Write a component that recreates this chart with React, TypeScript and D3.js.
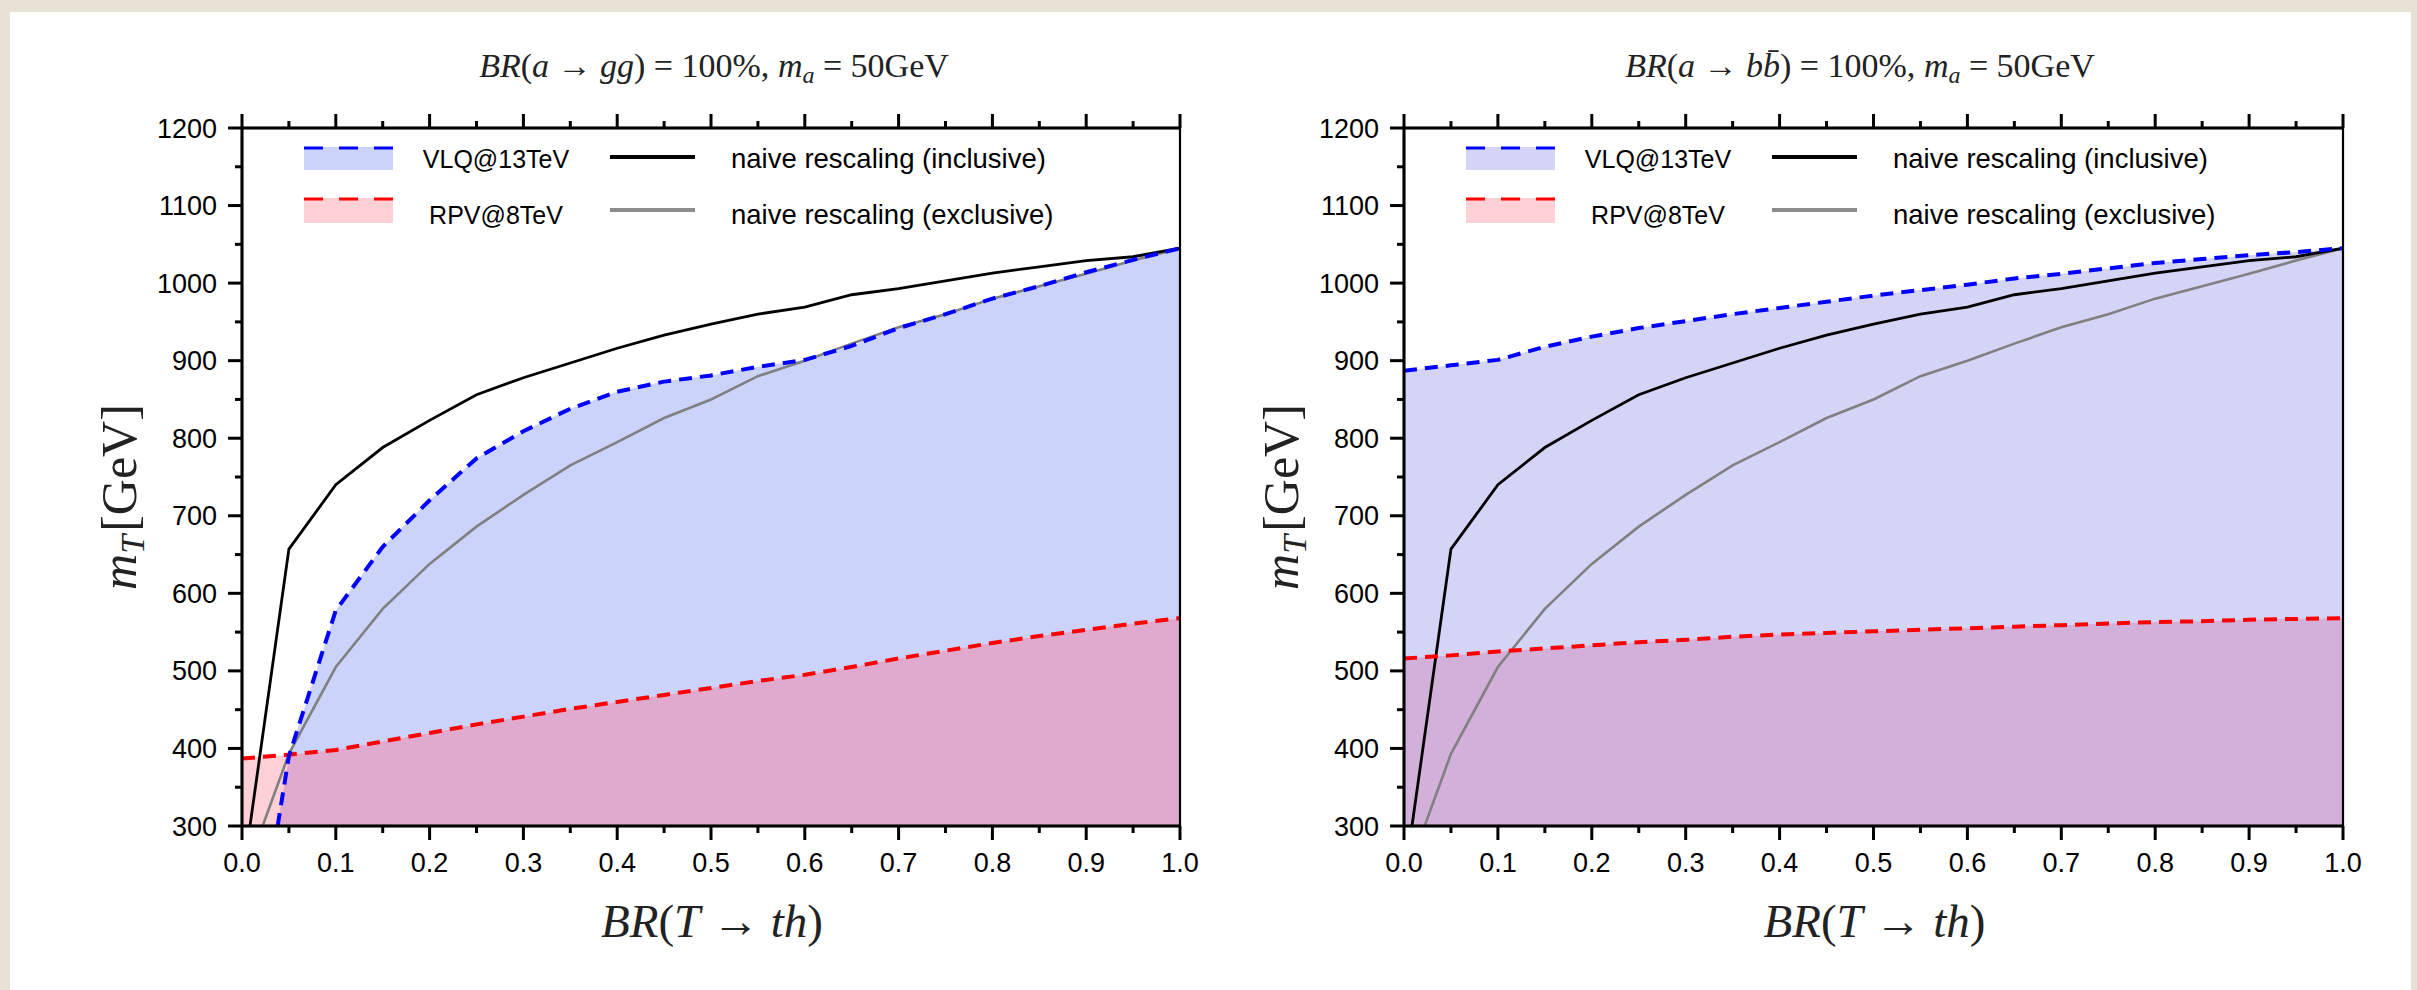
import React from "react";
import * as d3 from "d3";

// ---------------- data ----------------
// naive rescaling (inclusive) – same curve in both panels
const INCL_BR = [0.0085, 0.05, 0.1, 0.15, 0.2, 0.25, 0.3, 0.35, 0.4, 0.45, 0.5, 0.55, 0.6, 0.65, 0.7, 0.75, 0.8, 0.85, 0.9, 0.95, 1.0];
const INCL_MT = [300, 657, 740, 788, 823, 856, 878, 897, 916, 933, 947, 960, 969, 985, 993, 1003, 1013, 1021, 1029, 1034, 1045];

// naive rescaling (exclusive) – same curve in both panels
const EXCL_BR = [0.022, 0.05, 0.1, 0.15, 0.2, 0.25, 0.3, 0.35, 0.4, 0.45, 0.5, 0.55, 0.6, 0.65, 0.7, 0.75, 0.8, 0.85, 0.9, 0.95, 1.0];
const EXCL_MT = [300, 393, 505, 580, 638, 686, 727, 765, 795, 826, 850, 880, 900, 922, 943, 960, 980, 996, 1012, 1029, 1045];

// VLQ@13TeV, a -> gg
const VLQ_GG_BR = [0.038, 0.05, 0.1, 0.15, 0.2, 0.25, 0.3, 0.35, 0.4, 0.45, 0.5, 0.55, 0.6, 0.65, 0.7, 0.75, 0.8, 0.85, 0.9, 0.95, 1.0];
const VLQ_GG_MT = [300, 390, 578, 660, 720, 774, 809, 838, 860, 873, 881, 892, 901, 919, 942, 960, 980, 996, 1014, 1030, 1045];

// RPV@8TeV, a -> gg
const RPV_BR = [0, 0.05, 0.1, 0.15, 0.2, 0.25, 0.3, 0.35, 0.4, 0.45, 0.5, 0.55, 0.6, 0.65, 0.7, 0.75, 0.8, 0.85, 0.9, 0.95, 1.0];
const RPV_GG_MT = [387, 392, 398, 409, 420, 431, 441, 451, 460, 469, 478, 487, 495, 505, 516, 526, 536, 545, 553, 561, 568];

// a -> bb
const VLQ_BB_BR = [0, 0.05, 0.1, 0.15, 0.2, 0.25, 0.3, 0.35, 0.4, 0.45, 0.5, 0.55, 0.6, 0.65, 0.7, 0.75, 0.8, 0.85, 0.9, 0.95, 1.0];
const VLQ_BB_MT = [887, 894, 901, 918, 931, 942, 951, 960, 968, 976, 984, 991, 998, 1006, 1012, 1019, 1026, 1031, 1036, 1040, 1045];
const RPV_BB_MT = [516, 520, 525, 529, 533, 537, 540, 544, 547, 549, 551, 553, 555, 557, 559, 561, 563, 564, 566, 567, 568];

const X_DOMAIN = [0, 1];
const Y_DOMAIN = [300, 1200];
const LEGEND_LABELS = ["VLQ@13TeV", "RPV@8TeV", "naive rescaling (inclusive)", "naive rescaling (exclusive)"];

type Pt = { x: number; y: number };
const zip = (xs: number[], ys: number[]): Pt[] => xs.map((x, i) => ({ x, y: ys[i] }));

const W = 2417;
const H = 990;
const TOP = 128;
const BOTTOM = 826;
const MATH = "'Liberation Serif', 'DejaVu Serif', serif";
const SANS = "'Liberation Sans', Arial, sans-serif";

type PanelProps = {
  id: string;
  x0: number;
  x1: number;
  vlq: Pt[];
  rpv: Pt[];
  blueFill: string;
  redFill: string;
  overlapFill: string;
  title: React.ReactNode;
  titleX: number;
};

function Panel(p: PanelProps) {
  const x = d3.scaleLinear().domain(X_DOMAIN).range([p.x0, p.x1]);
  const y = d3.scaleLinear().domain(Y_DOMAIN).range([BOTTOM, TOP]);
  const line = d3.line<Pt>().x((d) => x(d.x)).y((d) => y(d.y));
  const area = d3.area<Pt>().x((d) => x(d.x)).y0(y(300)).y1((d) => y(d.y));
  const incl = zip(INCL_BR, INCL_MT);
  const excl = zip(EXCL_BR, EXCL_MT);

  const xMajor = x.ticks(10);
  const xMinor = x.ticks(20).filter((t) => !xMajor.some((m) => Math.abs(m - t) < 1e-9));
  const yMajor = y.ticks(9);
  const yMinor = d3.range(350, 1200, 100);

  const lx = p.x0;
  const cx = (p.x0 + p.x1) / 2;
  return (
    <g>
      <defs>
        <clipPath id={`plot-${p.id}`}>
          <rect x={p.x0} y={TOP} width={p.x1 - p.x0} height={BOTTOM - TOP} />
        </clipPath>
        <clipPath id={`blue-${p.id}`}>
          <path d={area(p.vlq) || ""} />
        </clipPath>
      </defs>
      {/* title */}
      <text x={p.titleX} y={77} fontFamily={MATH} fontSize={34} textAnchor="middle" fill="#222">
        {p.title}
      </text>
      <g clipPath={`url(#plot-${p.id})`}>
        <path d={area(p.vlq) || ""} fill={p.blueFill} />
        <path d={area(p.rpv) || ""} fill={p.redFill} />
        <path d={area(p.rpv) || ""} fill={p.overlapFill} clipPath={`url(#blue-${p.id})`} />
        <path d={line(excl) || ""} fill="none" stroke="#808080" strokeWidth={2.6} />
        <path d={line(incl) || ""} fill="none" stroke="#000" strokeWidth={2.8} />
        <path d={line(p.rpv) || ""} fill="none" stroke="#ff0000" strokeWidth={4} strokeDasharray="13 8" />
        <path d={line(p.vlq) || ""} fill="none" stroke="#0000ff" strokeWidth={4} strokeDasharray="13 8" />
      </g>
      {/* frame */}
      <rect x={p.x0} y={TOP} width={p.x1 - p.x0} height={BOTTOM - TOP} fill="none" stroke="#000" strokeWidth={2.2} />
      <line x1={p.x0 - 1} x2={p.x1 + 1} y1={BOTTOM} y2={BOTTOM} stroke="#000" strokeWidth={3.2} />
      <line x1={p.x0 - 1} x2={p.x1 + 1} y1={TOP} y2={TOP} stroke="#000" strokeWidth={3} />
      <line x1={p.x0} x2={p.x0} y1={TOP - 1} y2={BOTTOM + 1} stroke="#000" strokeWidth={3} />
      {/* x ticks bottom & top */}
      {xMajor.map((t) => (
        <g key={`xm${t}`}>
          <line x1={x(t)} x2={x(t)} y1={BOTTOM} y2={BOTTOM + 14} stroke="#000" strokeWidth={3} />
          <line x1={x(t)} x2={x(t)} y1={TOP} y2={TOP - 14} stroke="#000" strokeWidth={3} />
          <text x={x(t)} y={872} fontFamily={SANS} fontSize={27} textAnchor="middle" fill="#000">
            {d3.format(".1f")(t)}
          </text>
        </g>
      ))}
      {xMinor.map((t) => (
        <g key={`xn${t}`}>
          <line x1={x(t)} x2={x(t)} y1={BOTTOM} y2={BOTTOM + 7} stroke="#000" strokeWidth={3} />
          <line x1={x(t)} x2={x(t)} y1={TOP} y2={TOP - 7} stroke="#000" strokeWidth={3} />
        </g>
      ))}
      {/* y ticks */}
      {yMajor.map((t) => (
        <g key={`ym${t}`}>
          <line x1={p.x0} x2={p.x0 - 14} y1={y(t)} y2={y(t)} stroke="#000" strokeWidth={3} />
          <text x={p.x0 - 25} y={y(t) + 9.5} fontFamily={SANS} fontSize={27} textAnchor="end" fill="#000">
            {t}
          </text>
        </g>
      ))}
      {yMinor.map((t) => (
        <line key={`yn${t}`} x1={p.x0} x2={p.x0 - 7} y1={y(t)} y2={y(t)} stroke="#000" strokeWidth={3} />
      ))}
      {/* axis labels */}
      <text x={cx + 1} y={937} fontFamily={MATH} fontSize={47} textAnchor="middle" fill="#222">
        <tspan fontStyle="italic">BR</tspan>(<tspan fontStyle="italic">T</tspan> → <tspan fontStyle="italic">th</tspan>)
      </text>
      <text transform={`translate(${p.x0 - 106}, 497) rotate(-90)`} fontFamily={MATH} fontSize={50} textAnchor="middle" fill="#222">
        <tspan fontStyle="italic">m</tspan>
        <tspan fontStyle="italic" fontSize={34} dy={8}>T</tspan>
        <tspan dy={-8} dx={3}>[GeV]</tspan>
      </text>
      {/* legend */}
      <rect x={lx + 62} y={147} width={89} height={23} fill={p.blueFill} />
      <line x1={lx + 62} x2={lx + 151} y1={148} y2={148} stroke="#0000ff" strokeWidth={3} strokeDasharray="19 16" />
      <rect x={lx + 62} y={198} width={89} height={25} fill="#ffd0d5" />
      <line x1={lx + 62} x2={lx + 151} y1={199} y2={199} stroke="#ff0000" strokeWidth={3} strokeDasharray="19 16" />
      <text x={lx + 254} y={168} fontFamily={SANS} fontSize={25} textAnchor="middle" fill="#000">{LEGEND_LABELS[0]}</text>
      <text x={lx + 254} y={224} fontFamily={SANS} fontSize={25} textAnchor="middle" fill="#000">{LEGEND_LABELS[1]}</text>
      <line x1={lx + 368} x2={lx + 453} y1={157} y2={157} stroke="#000" strokeWidth={4} />
      <line x1={lx + 368} x2={lx + 453} y1={210} y2={210} stroke="#8c8c8c" strokeWidth={4} />
      <text x={lx + 489} y={168} fontFamily={SANS} fontSize={27.5} fill="#000">{LEGEND_LABELS[2]}</text>
      <text x={lx + 489} y={224} fontFamily={SANS} fontSize={27.5} fill="#000">{LEGEND_LABELS[3]}</text>
    </g>
  );
}

export default function App() {
  return (
    <svg width={W} height={H} style={{ position: "absolute", left: 0, top: 0, display: "block" }}>
      <rect x={0} y={0} width={W} height={H} fill="#e7e2d4" />
      <rect x={10} y={12} width={2401} height={H - 12} fill="#ffffff" />
      <Panel
        id="gg"
        x0={242}
        x1={1180}
        vlq={zip(VLQ_GG_BR, VLQ_GG_MT)}
        rpv={zip(RPV_BR, RPV_GG_MT)}
        blueFill="#cbd3fb"
        redFill="#ffd0d5"
        overlapFill="#dfaace"
        titleX={714}
        title={
          <>
            <tspan fontStyle="italic">BR</tspan>(<tspan fontStyle="italic">a</tspan> → <tspan fontStyle="italic">gg</tspan>) = 100%,{" "}
            <tspan fontStyle="italic">m</tspan>
            <tspan fontStyle="italic" fontSize={24} dy={6}>a</tspan>
            <tspan dy={-6}> = 50GeV</tspan>
          </>
        }
      />
      <Panel
        id="bb"
        x0={1404}
        x1={2343}
        vlq={zip(VLQ_BB_BR, VLQ_BB_MT)}
        rpv={zip(RPV_BR, RPV_BB_MT)}
        blueFill="#d4d4f7"
        redFill="#ffd0d5"
        overlapFill="#d3b0d9"
        titleX={1860}
        title={
          <>
            <tspan fontStyle="italic">BR</tspan>(<tspan fontStyle="italic">a</tspan> → <tspan fontStyle="italic">b{"b\u0304"}</tspan>) = 100%,{" "}
            <tspan fontStyle="italic">m</tspan>
            <tspan fontStyle="italic" fontSize={24} dy={6}>a</tspan>
            <tspan dy={-6}> = 50GeV</tspan>
          </>
        }
      />
    </svg>
  );
}
